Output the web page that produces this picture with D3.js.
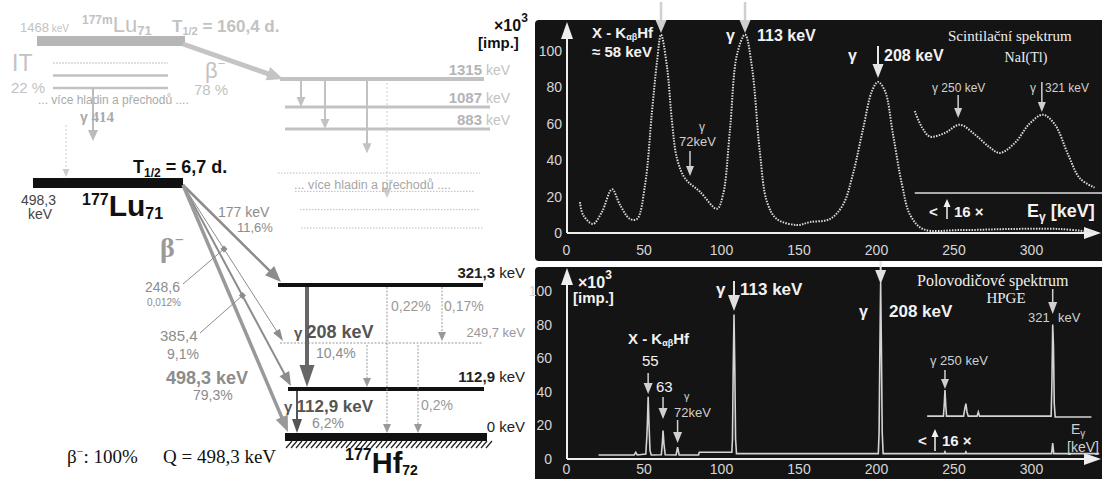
<!DOCTYPE html>
<html>
<head>
<meta charset="utf-8">
<script src="https://cdn.jsdelivr.net/npm/d3@7"></script>
<style>body{margin:0;background:#fff}svg{display:block}text{white-space:pre}</style>
</head>
<body>
<svg id="c" width="1102" height="479"></svg>
<script>
// ---- decay scheme values ----
var isoLevelE = 1468;
var upperLevelE = [1315, 1087, 883];
var upperLevelLbl = ['1315', '1087', '883'];
var upperGammaFrom = [1315, 1315, 1315, 1315];
var upperGammaTo = [1087, 883, 670, 280];
var hfLevelE = [321.3, 249.7, 112.9, 0];
var hfLevelLbl = ['321,3', '249,7', '112,9', '0'];
var betaEnd = [321.3, 249.7, 112.9, 0];
var betaWidth = [2.5, 1, 2, 3.5];
var gammaFrom = [321.3, 112.9, 321.3, 321.3, 249.7, 249.7];
var gammaTo = [112.9, 0, 0, 249.7, 112.9, 0];

// ---- spectra values (keV, counts x10^3) ----
var naiKeV = [9, 11, 17.4, 23.2, 29.7, 34.8, 41.3, 45.8, 51, 55.5, 58.7, 61.3, 65.2, 68.4, 71.6, 76.8, 86.5, 97.4, 101.3, 105.8, 110.3, 115.5, 120, 125, 129.7, 136, 149, 157.4, 170.3, 178.7, 185, 191.6, 197.4, 201.3, 205.8, 211, 216.8, 222, 230.3, 254, 286.5, 318.7, 340];
var naiCounts = [17, 10, 5, 11.6, 24, 15.5, 7.7, 7.7, 26.5, 67, 94, 109, 91, 61, 41, 30, 22.6, 13.3, 21, 57, 98, 109, 91, 45, 17, 7.7, 4.4, 6, 7.7, 15.5, 32, 57, 78, 83, 78, 54, 26.5, 10, 2.2, 1.6, 2.2, 2.2, 0.5];
var naiZoomKeV = [225, 229.7, 234.8, 244.5, 254, 264, 273.5, 280, 289.7, 299, 307.7, 315.5, 324, 331.6, 341];
var naiZoomCounts = [45, 36, 31, 33, 37.5, 32, 25, 22, 27.6, 38, 43, 37.5, 21, 8, 3];
var hpgeKeV = [21, 44, 45, 46, 51.5, 52.2, 52.6, 53, 53.5, 54.2, 55, 61.5, 62.2, 62.6, 63.2, 64, 71, 72, 73, 85.5, 86, 107, 107.4, 107.9, 108.4, 108.9, 109.4, 110, 201.5, 202, 202.5, 203, 203.5, 204, 204.6, 244, 244.5, 245, 257.5, 258, 258.5, 313.3, 314, 314.7, 344];
var hpgeCounts = [2.4, 2.4, 4, 2.4, 3, 14, 24, 37, 22, 5, 2.4, 2.5, 10, 17, 9, 2.5, 2.4, 7, 2.4, 2.4, 4, 4, 12, 55, 86, 55, 12, 3.2, 3.2, 16, 65, 105, 65, 16, 3.2, 3.2, 4.3, 3.2, 3.2, 4.2, 3.2, 3.2, 9.5, 3.2, 3.2];
var hpgeZoomKeV = [233, 243.5, 244, 244.5, 245, 245.5, 256.5, 257.3, 258, 258.7, 259.5, 265.2, 266, 266.8, 313, 313.5, 314, 314.5, 315, 315.6, 339];
var hpgeZoomCounts = [0.5, 0.5, 7, 16, 7, 0.5, 0.5, 5, 8, 3, 0.5, 0.5, 3, 0.5, 0.5, 20, 55, 42, 8, 0, 0];
var tickKeV = [0, 50, 100, 150, 200, 250, 300];
var tickCounts = [0, 20, 40, 60, 80, 100];
var naiMarkKeV = [61.3, 115.5, 201.3];
var naiZoomMarkKeV = [253, 307];
var hpgeMarkKeV = [53, 62.6, 72, 108.4, 203];
var hpgeZoomMarkKeV = [244.5, 314];

var SANS = '"Liberation Sans", Arial, sans-serif';
var SERIF = '"Liberation Serif", "Times New Roman", serif';
var svg = d3.select('#c');

function label(g, x, y, parts, o) {
    o = o || {};
    var t = g.append('text').attr('x', x).attr('y', y)
	.attr('font-family', o.family || SANS)
	.attr('font-size', o.size || 13)
	.attr('font-weight', o.weight || 'normal')
	.attr('fill', o.fill || '#000')
	.attr('text-anchor', o.anchor || 'start');
    if (typeof parts === 'string') parts = [[parts]];
    parts.forEach(function(p) {
	var s = t.append('tspan').text(p[0]);
	var po = p[1] || {};
	if (po.size) s.attr('font-size', po.size);
	if (po.dy !== undefined) s.attr('dy', po.dy);
	if (po.x !== undefined) s.attr('x', po.x);
	if (po.weight) s.attr('font-weight', po.weight);
	if (po.family) s.attr('font-family', po.family);
    });
    return t;
}

function arrow(g, x1, y1, x2, y2, o) {
    var dx = x2 - x1, dy = y2 - y1, L = Math.sqrt(dx * dx + dy * dy);
    var ux = dx / L, uy = dy / L;
    var hl = o.hl || 10, hw = o.hw || 8;
    var bx = x2 - ux * hl, by = y2 - uy * hl;
    g.append('line').attr('x1', x1).attr('y1', y1)
	.attr('x2', bx + ux * 2).attr('y2', by + uy * 2)
	.attr('stroke', o.color).attr('stroke-width', o.w || 1.5)
	.attr('stroke-dasharray', o.dash || null);
    g.append('path')
	.attr('d', 'M' + x2 + ',' + y2 + 'L' + (bx - uy * hw / 2) + ',' + (by + ux * hw / 2)
	      + 'L' + (bx + uy * hw / 2) + ',' + (by - ux * hw / 2) + 'Z')
	.attr('fill', o.color);
}

// ================= decay scheme =================
var ds = svg.append('g');
var G1 = '#c2c2c2', G2 = '#8c8c8c';

// 177mLu (greyed)
var yUp = d3.scaleLinear().domain([0, 883, 1087, 1315, 1468]).range([230, 129, 107, 79, 41]);
ds.append('rect').attr('x', 37).attr('y', yUp(isoLevelE) - 5).attr('width', 148).attr('height', 10).attr('fill', '#b6b6b6');
label(ds, 20, 32, [['1468', {size: 13}], [' keV', {size: 10}]], {fill: G1});
label(ds, 82, 24, [['177m', {size: 12}], ['Lu', {size: 22, dy: 8, weight: 'normal'}], ['71', {size: 13, dy: 3}]], {fill: G1, weight: 'bold'});
label(ds, 172, 32, [['T'], ['1/2', {size: 11, dy: 3}], [' = 160,4 d.', {dy: -3}]], {fill: G1, weight: 'bold', size: 17});
arrow(ds, 183, 44, 283, 79, {color: '#c4c4c4', w: 5, hl: 16, hw: 14});

var itY = d3.scaleLinear().domain([0, 2]).range([63, 88]);
[1.2, 2.5, 2.5].forEach(function(w, i) {
    ds.append('line').attr('x1', 53).attr('x2', 168).attr('y1', itY(i)).attr('y2', itY(i))
	.attr('stroke', G1).attr('stroke-width', w).attr('stroke-dasharray', i === 0 ? '2,1' : null);
});
label(ds, 12, 71, 'IT', {fill: G1, size: 23});
label(ds, 11, 93, '22 %', {fill: G1, size: 15});
label(ds, 38, 104, '... více hladin a přechodů ....', {fill: '#aaa', size: 12});
label(ds, 205, 78, [['β', {size: 22}], ['−', {size: 13, dy: -10}]], {fill: G1});
label(ds, 194, 95, '78 %', {fill: G1, size: 15});
arrow(ds, 93, 88, 93, 141, {color: '#bbb', w: 2, hl: 11, hw: 10});
label(ds, 80, 122, [['γ', {weight: 'bold', size: 14}], [' 414', {family: SERIF, size: 15, weight: 'bold'}]], {fill: '#aaa'});
arrow(ds, 66, 125, 66, 177, {color: '#ccc', w: 1, dash: '2,2', hl: 8, hw: 7});

upperLevelE.forEach(function(E, i) {
    ds.append('line').attr('x1', i === 0 ? 280 : 285).attr('x2', i === 0 ? 484 : 490)
	.attr('y1', yUp(E)).attr('y2', yUp(E)).attr('stroke', G1).attr('stroke-width', i === 0 ? 4 : 3);
    label(ds, 482, yUp(E) - 4, upperLevelLbl[i], {fill: '#b4b4b4', size: 15, weight: 'bold', anchor: 'end'});
    label(ds, 486, yUp(E) - 4, 'keV', {fill: G1, size: 14});
});
var upX = d3.scaleOrdinal().domain(d3.range(4)).range([301, 325, 367, 387]);
upperGammaFrom.forEach(function(E, i) {
    arrow(ds, upX(i), yUp(E), upX(i), yUp(upperGammaTo[i]),
	  {color: i === 3 ? '#ccc' : G1, w: i === 3 ? 1 : 2, dash: i === 3 ? '2,2' : null, hl: 10, hw: 9});
});
var moreY = d3.scaleLinear().domain([0, 3]).range([173, 228]);
[[278, 480], [295, 475], [300, 480], [301, 483]].forEach(function(r, i) {
    ds.append('line').attr('x1', r[0]).attr('x2', r[1]).attr('y1', moreY(i)).attr('y2', moreY(i))
	.attr('stroke', '#bbb').attr('stroke-width', 1).attr('stroke-dasharray', '1.5,1.5');
});
label(ds, 294, 189, '... více hladin a přechodů ....', {fill: '#a6a6a6', size: 12.5});

// 177Lu
var luY = 183;
ds.append('rect').attr('x', 33).attr('y', luY - 5).attr('width', 150).attr('height', 10).attr('fill', '#111');
label(ds, 133, 173, [['T'], ['1/2', {size: 12, dy: 4}], [' = 6,7 d.', {dy: -4}]], {fill: '#111', weight: 'bold', size: 18});
label(ds, 21, 205, '498,3', {fill: '#444', size: 14});
label(ds, 28, 219, 'keV', {fill: '#444', size: 14});
label(ds, 82, 205, [['177', {size: 16}], ['Lu', {size: 30, dy: 11}], ['71', {size: 16, dy: 3}]], {fill: '#111', weight: 'bold'});
label(ds, 160, 257, [['β', {size: 28}], ['−', {size: 16, dy: -12}]], {fill: '#9a9a9a', family: SERIF, weight: 'bold'});

// 177Hf levels
var yHf = d3.scaleLinear().domain([0, 112.9, 249.7, 321.3]).range([437, 389, 343, 285]);
var hfX0 = d3.scaleOrdinal().domain(hfLevelE).range([278, 280, 288, 285]);
var hfX1 = d3.scaleOrdinal().domain(hfLevelE).range([483, 482, 484, 487]);
hfLevelE.forEach(function(E, i) {
    var dotted = E === 249.7, w = E === 0 ? 8 : 4;
    ds.append('line').attr('x1', hfX0(E)).attr('x2', hfX1(E)).attr('y1', yHf(E)).attr('y2', yHf(E))
	.attr('stroke', dotted ? '#999' : '#111').attr('stroke-width', dotted ? 1 : w)
	.attr('stroke-dasharray', dotted ? '2,1.5' : null);
    if (dotted) {
	label(ds, 525, yHf(E) - 6, hfLevelLbl[i] + ' keV', {fill: '#999', size: 13, anchor: 'end'});
    } else {
	label(ds, 525, yHf(E) - (E === 0 ? 5 : 7), [[hfLevelLbl[i], {weight: E === 0 ? 'normal' : 'bold'}], [' keV']], {fill: '#222', size: 15, anchor: 'end'});
    }
});
d3.range(286, 487, 5).forEach(function(hx) {
    ds.append('line').attr('x1', hx).attr('y1', 448).attr('x2', hx + 6).attr('y2', 441).attr('stroke', '#222').attr('stroke-width', 1.2);
});
label(ds, 345, 460, [['177', {size: 16}], ['Hf', {size: 29, dy: 13}], ['72', {size: 14, dy: 2}]], {fill: '#111', weight: 'bold'});

// beta branches
var betaHead = [[16, 13], [12, 8], [14, 11], [16, 13]];
var betaLines = [];
betaEnd.forEach(function(E, i) {
    var tx = hfX0(E) + 3, ty = yHf(E) - (E === 249.7 ? 2 : (E === 0 ? 5 : 3));
    betaLines.push([183, 185, tx, ty]);
    arrow(ds, 183, 185, tx, ty, {color: i === 3 ? '#999' : G2, w: betaWidth[i], hl: betaHead[i][0], hw: betaHead[i][1]});
});
function onBeta(i, t) {
    var b = betaLines[i];
    return [b[0] + (b[2] - b[0]) * t, b[1] + (b[3] - b[1]) * t];
}
[[1, 0.41, 183, 284], [2, 0.55, 200, 333]].forEach(function(m) {
    var p = onBeta(m[0], m[1]);
    ds.append('line').attr('x1', m[2]).attr('y1', m[3]).attr('x2', p[0]).attr('y2', p[1]).attr('stroke', G2).attr('stroke-width', 1);
    ds.append('rect').attr('x', p[0] - 2.5).attr('y', p[1] - 2.5).attr('width', 5).attr('height', 5)
	.attr('transform', 'rotate(45,' + p[0] + ',' + p[1] + ')').attr('fill', G2);
});
label(ds, 218, 217, '177 keV', {fill: G2, size: 14});
label(ds, 237, 232, '11,6%', {fill: G2, size: 13});
label(ds, 145, 292, '248,6', {fill: G2, size: 14});
label(ds, 147, 306, '0,012%', {fill: G2, size: 10});
label(ds, 160, 341, '385,4', {fill: G2, size: 15});
label(ds, 167, 359, '9,1%', {fill: G2, size: 14});
label(ds, 166, 384, '498,3 keV', {fill: G2, size: 18, weight: 'bold'});
label(ds, 193, 400, '79,3%', {fill: G2, size: 14});
label(ds, 67, 463, [['β'], ['−', {size: 12, dy: -8}], [': 100%', {dy: 8}], ['Q = 498,3 keV', {x: 163}]], {fill: '#111', size: 19, family: SERIF});

// gamma transitions
var gX = d3.scaleOrdinal().domain(d3.range(6)).range([307, 297, 387, 442, 367, 418]);
gammaFrom.forEach(function(E, i) {
    var y1 = yHf(E) + 2, y2 = yHf(gammaTo[i]) - (gammaTo[i] === 0 ? 4 : 2);
    if (i === 0) arrow(ds, gX(i), y1, gX(i), y2, {color: '#666', w: 4, hl: 22, hw: 15});
    else if (i === 1) arrow(ds, gX(i), y1, gX(i), y2, {color: '#555', w: 2, hl: 14, hw: 10});
    else arrow(ds, gX(i), y1, gX(i), y2, {color: '#999', w: 1, dash: '2,1.5', hl: 9, hw: 8});
});
label(ds, 294, 338, [['γ ', {size: 15}], ['208 keV', {size: 18}]], {fill: '#555', weight: 'bold'});
label(ds, 316, 358, '10,4%', {fill: G2, size: 14});
label(ds, 284, 412, [['γ ', {size: 15}], ['112,9 keV', {size: 17}]], {fill: '#555', weight: 'bold'});
label(ds, 312, 428, '6,2%', {fill: G2, size: 14});
label(ds, 391, 311, '0,22%', {fill: '#999', size: 14});
label(ds, 444, 311, '0,17%', {fill: '#999', size: 14});
label(ds, 421, 410, '0,2%', {fill: '#999', size: 14});

// ================= spectra =================
var sp = svg.append('g');
var x = d3.scaleLinear().domain([0, 300]).range([566, 1031]);
var yTop = d3.scaleLinear().domain([0, 100]).range([233, 51]);
var yTopZoom = d3.scaleLinear().domain([0, 100]).range([193, 11]);
var yBot = d3.scaleLinear().domain([0, 100]).range([459, 291]);
var yBotZoom = d3.scaleLinear().domain([0, 100]).range([417, 249]);

sp.append('rect').attr('x', 535).attr('y', 20).attr('width', 580).attr('height', 241).attr('rx', 4).attr('fill', '#141414');
sp.append('rect').attr('x', 535).attr('y', 267).attr('width', 580).attr('height', 230).attr('rx', 4).attr('fill', '#141414');

function axes(y0, yTopTip, yScale, padX, padY) {
    var gx = sp.append('g').attr('transform', 'translate(0,' + y0 + ')')
	.call(d3.axisBottom(x).tickValues(tickKeV).tickSize(0).tickPadding(padX));
    var gy = sp.append('g').attr('transform', 'translate(' + (x(0) + 1) + ',0)')
	.call(d3.axisLeft(yScale).tickValues(tickCounts).tickSize(0).tickPadding(padY));
    [gx, gy].forEach(function(g) {
	g.select('.domain').remove();
	g.selectAll('text').attr('fill', '#d6d6d6').attr('font-size', 14).attr('font-family', SANS);
    });
    arrow(sp, x(0) + 1, y0, 1101, y0, {color: '#eee', w: 2, hl: 17, hw: 12});
    arrow(sp, x(0) + 1, y0, x(0) + 1, yTopTip, {color: '#eee', w: 2, hl: 17, hw: 12});
}
axes(yTop(0), 22, yTop, 12, 5);
axes(yBot(0), 268, yBot, 5, 15);

// NaI(Tl) spectrum (dotted trace)
var lineTop = d3.line().x(function(d) { return x(d[0]); }).y(function(d) { return yTop(d[1]); }).curve(d3.curveCatmullRom);
var lineTopZoom = d3.line().x(function(d) { return x(d[0]); }).y(function(d) { return yTopZoom(d[1]); }).curve(d3.curveCatmullRom);
sp.append('path').datum(d3.zip(naiKeV, naiCounts)).attr('d', lineTop)
    .attr('fill', 'none').attr('stroke', '#dcdcdc').attr('stroke-width', 2).attr('stroke-dasharray', '1.5,1.3');
sp.append('path').datum(d3.zip(naiZoomKeV, naiZoomCounts)).attr('d', lineTopZoom)
    .attr('fill', 'none').attr('stroke', '#dcdcdc').attr('stroke-width', 2).attr('stroke-dasharray', '1.5,1.3');
sp.append('line').attr('x1', x(225)).attr('x2', 1102).attr('y1', yTopZoom(0)).attr('y2', yTopZoom(0)).attr('stroke', '#ddd').attr('stroke-width', 1.5);

// HPGe spectrum
var lineBot = d3.line().x(function(d) { return x(d[0]); }).y(function(d) { return yBot(d[1]); });
var lineBotZoom = d3.line().x(function(d) { return x(d[0]); }).y(function(d) { return yBotZoom(d[1]); });
sp.append('path').datum(d3.zip(hpgeKeV, hpgeCounts)).attr('d', lineBot)
    .attr('fill', 'none').attr('stroke', '#d4d4d4').attr('stroke-width', 1.6);
sp.append('path').datum(d3.zip(hpgeZoomKeV, hpgeZoomCounts)).attr('d', lineBotZoom)
    .attr('fill', 'none').attr('stroke', '#d4d4d4').attr('stroke-width', 1.6);

// top annotations
var W1 = '#f2f2f2', W2 = '#d0d0d0';
arrow(sp, x(naiMarkKeV[0]), 2, x(naiMarkKeV[0]), 33, {color: '#cfcfcf', w: 2.5, hl: 13, hw: 11});
arrow(sp, x(naiMarkKeV[1]), 2, x(naiMarkKeV[1]), 33, {color: '#cfcfcf', w: 2.5, hl: 13, hw: 11});
arrow(sp, x(naiMarkKeV[2]), 46, x(naiMarkKeV[2]), 78, {color: '#e6e6e6', w: 2, hl: 14, hw: 11});
arrow(sp, 690, 151, 690, 176, {color: W2, w: 1.5, hl: 10, hw: 8});
arrow(sp, x(naiZoomMarkKeV[0]), 95, x(naiZoomMarkKeV[0]), 118, {color: W2, w: 1.5, hl: 10, hw: 8});
arrow(sp, x(naiZoomMarkKeV[1]), 82, x(naiZoomMarkKeV[1]), 112, {color: W2, w: 1.5, hl: 10, hw: 8});
label(svg, 494, 31, [['×10', {size: 16}], ['3', {size: 12, dy: -9}]], {weight: 'bold', fill: '#111'});
label(svg, 478, 48, '[imp.]', {weight: 'bold', fill: '#111', size: 15});
label(sp, 592, 38, [['X - K'], ['αβ', {size: 9, dy: 2}], ['Hf', {dy: -2}]], {fill: W1, weight: 'bold', size: 15});
label(sp, 592, 57, '≈ 58 keV', {fill: W1, weight: 'bold', size: 15});
label(sp, 726, 41, 'γ', {fill: W1, weight: 'bold', size: 16});
label(sp, 757, 41, '113 keV', {fill: W1, weight: 'bold', size: 16});
label(sp, 699, 131, 'γ', {fill: W2, size: 12});
label(sp, 679, 146, '72keV', {fill: W2, size: 13});
label(sp, 848, 61, 'γ', {fill: W1, weight: 'bold', size: 16});
label(sp, 884, 61, '208 keV', {fill: W1, weight: 'bold', size: 16});
label(sp, 948, 41, 'Scintilační spektrum', {fill: '#eee', size: 15, family: SERIF});
label(sp, 1026, 62, 'NaI(Tl)', {fill: '#eee', size: 14, family: SERIF, anchor: 'middle'});
label(sp, 932, 92, 'γ 250 keV', {fill: W2, size: 12});
label(sp, 1030, 92, 'γ', {fill: W2, size: 12});
label(sp, 1045, 92, '321 keV', {fill: W2, size: 12});
label(sp, 929, 217, '<', {fill: W1, weight: 'bold', size: 15});
arrow(sp, 947, 219, 947, 199, {color: W1, w: 1.5, hl: 8, hw: 7});
label(sp, 954, 217, '16 ×', {fill: W1, weight: 'bold', size: 15});
label(sp, 1027, 217, [['E'], ['γ', {size: 12, dy: 4}], [' [keV]', {dy: -4}]], {fill: W1, weight: 'bold', size: 18});

// bottom annotations
arrow(sp, x(hpgeMarkKeV[0]), 373, x(hpgeMarkKeV[0]), 394, {color: W2, w: 1.5, hl: 11, hw: 9});
arrow(sp, x(hpgeMarkKeV[1]), 397, x(hpgeMarkKeV[1]), 419, {color: W2, w: 1.5, hl: 11, hw: 9});
arrow(sp, x(hpgeMarkKeV[2]), 420, x(hpgeMarkKeV[2]), 443, {color: W2, w: 1.5, hl: 11, hw: 9});
arrow(sp, x(hpgeMarkKeV[3]), 281, x(hpgeMarkKeV[3]), 311, {color: '#e0e0e0', w: 2, hl: 16, hw: 12});
arrow(sp, x(hpgeMarkKeV[4]), 261, x(hpgeMarkKeV[4]), 284, {color: '#e0e0e0', w: 2, hl: 14, hw: 11});
arrow(sp, x(hpgeZoomMarkKeV[0]), 370, x(hpgeZoomMarkKeV[0]), 389, {color: W2, w: 1.5, hl: 10, hw: 8});
arrow(sp, x(hpgeZoomMarkKeV[1]), 289, x(hpgeZoomMarkKeV[1]), 314, {color: W2, w: 1.5, hl: 12, hw: 9});
label(sp, 578, 288, [['×10', {size: 16}], ['3', {size: 12, dy: -9}]], {weight: 'bold', fill: W1});
label(sp, 573, 303, '[imp.]', {weight: 'bold', fill: W1, size: 15});
label(sp, 628, 344, [['X - K'], ['αβ', {size: 9, dy: 2}], ['Hf', {dy: -2}]], {fill: W1, weight: 'bold', size: 15});
label(sp, 642, 366, '55', {fill: W1, size: 15});
label(sp, 656, 392, '63', {fill: W1, size: 15});
label(sp, 684, 400, 'γ', {fill: W2, size: 11});
label(sp, 674, 417, '72keV', {fill: W2, size: 13});
label(sp, 716, 295, 'γ', {fill: W1, weight: 'bold', size: 17});
label(sp, 740, 295, '113 keV', {fill: W1, weight: 'bold', size: 17});
label(sp, 859, 317, 'γ', {fill: W1, weight: 'bold', size: 16});
label(sp, 889, 317, '208 keV', {fill: W1, weight: 'bold', size: 17});
label(sp, 917, 286, 'Polovodičové spektrum', {fill: '#eee', size: 16, family: SERIF});
label(sp, 1006, 303, 'HPGE', {fill: '#eee', size: 15, family: SERIF, anchor: 'middle'});
label(sp, 1028, 322, '321', {fill: W2, size: 13});
label(sp, 1058, 322, 'keV', {fill: W2, size: 13});
label(sp, 930, 365, 'γ 250 keV', {fill: W2, size: 13});
label(sp, 918, 446, '<', {fill: W1, weight: 'bold', size: 15});
arrow(sp, 935, 451, 935, 429, {color: W1, w: 1.5, hl: 8, hw: 7});
label(sp, 942, 446, '16 ×', {fill: W1, weight: 'bold', size: 15});
label(sp, 1071, 434, [['E'], ['γ', {size: 10, dy: 3}]], {fill: W2, size: 14});
label(sp, 1067, 452, '[keV]', {fill: W2, size: 14});
</script>
</body>
</html>
